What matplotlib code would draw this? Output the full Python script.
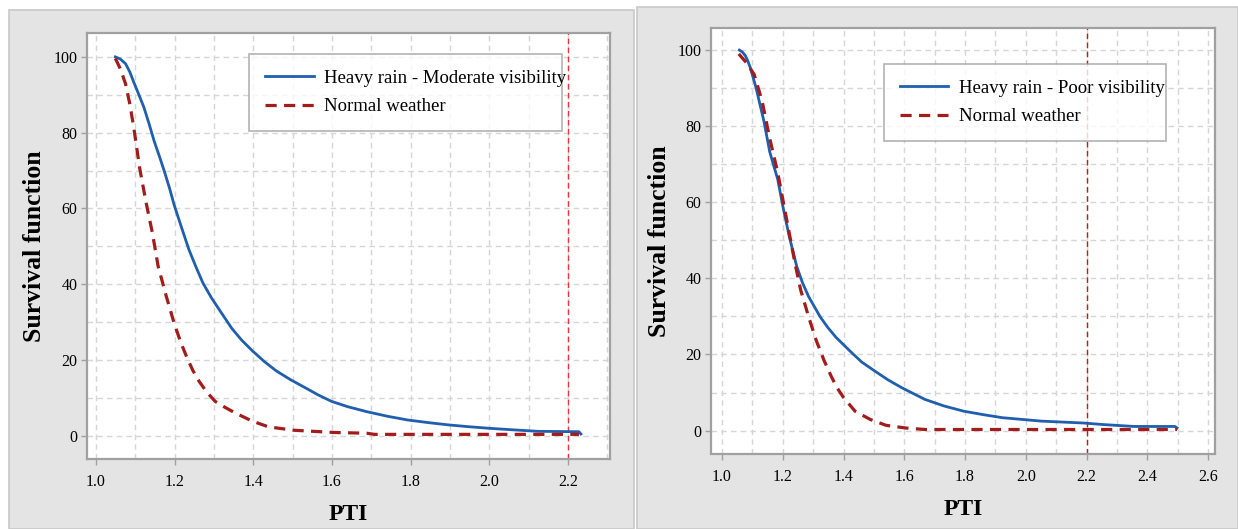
import matplotlib
matplotlib.use("Agg")
import matplotlib.pyplot as plt
from matplotlib.patches import Rectangle
from matplotlib.ticker import MultipleLocator

plt.rcParams['font.family'] = ['Liberation Serif', 'DejaVu Serif']

# ---------------- data ----------------
# Left panel: Heavy rain - Moderate visibility
left_heavy_x = [1.049, 1.062, 1.075, 1.086, 1.096, 1.109, 1.122, 1.135, 1.148, 1.161,
                1.174, 1.187, 1.199, 1.218, 1.236, 1.254, 1.272, 1.293, 1.314, 1.345,
                1.370, 1.397, 1.428, 1.459, 1.495, 1.532, 1.565, 1.599, 1.640, 1.688,
                1.740, 1.792, 1.845, 1.896, 1.950, 2.0, 2.06, 2.124, 2.228, 2.233]
left_heavy_y = [100, 99.4, 98.2, 96.0, 93.3, 90.0, 86.6, 82.3, 77.7, 73.8,
                69.7, 65.3, 60.8, 54.8, 49.2, 44.6, 40.3, 36.5, 33.2, 28.4,
                25.3, 22.5, 19.6, 17.1, 14.8, 12.7, 10.8, 9.1, 7.7, 6.4,
                5.2, 4.2, 3.5, 2.9, 2.4, 2.0, 1.6, 1.2, 1.1, 0.5]
left_normal_x = [1.049, 1.062, 1.075, 1.086, 1.096, 1.111, 1.127, 1.143, 1.158, 1.179,
                 1.199, 1.215, 1.231, 1.246, 1.262, 1.282, 1.303, 1.330, 1.355, 1.397,
                 1.438, 1.501, 1.605, 1.688, 1.708, 2.228]
left_normal_y = [99.6, 96.8, 92.9, 87.5, 81.3, 70.6, 61.7, 53.7, 44.7, 36.7,
                 29.6, 24.8, 20.7, 17.3, 14.4, 11.5, 9.1, 7.4, 6.0, 3.9,
                 2.4, 1.5, 0.9, 0.7, 0.4, 0.4]

# Right panel: Heavy rain - Poor visibility
right_heavy_x = [1.057, 1.067, 1.077, 1.085, 1.093, 1.102, 1.112, 1.125, 1.138, 1.157,
                 1.170, 1.183, 1.202, 1.221, 1.246, 1.265, 1.285, 1.323, 1.348, 1.374,
                 1.425, 1.460, 1.502, 1.545, 1.591, 1.668, 1.730, 1.796, 1.860, 1.923,
                 2.051, 2.191, 2.255, 2.357, 2.491, 2.498]
right_heavy_y = [99.9, 99.4, 98.4, 97.0, 95.3, 92.8, 90.0, 85.6, 81.2, 73.2,
                 69.6, 66.1, 58.2, 51.1, 43.1, 38.8, 35.2, 29.9, 27.1, 24.6,
                 20.6, 18.0, 15.7, 13.4, 11.3, 8.2, 6.5, 5.1, 4.2, 3.4,
                 2.5, 2.0, 1.6, 1.1, 1.1, 0.7]
right_normal_x = [1.055, 1.080, 1.106, 1.132, 1.157, 1.183, 1.202, 1.221, 1.240, 1.259,
                  1.285, 1.310, 1.336, 1.361, 1.380, 1.400, 1.438, 1.489, 1.540, 1.604,
                  1.668, 2.498]
right_normal_y = [98.9, 96.6, 93.5, 86.5, 76.7, 67.9, 59.9, 52.0, 44.0, 36.9,
                  29.9, 23.7, 18.4, 14.0, 11.1, 8.7, 5.1, 2.9, 1.4, 0.7,
                  0.3, 0.3]

left_labels = ["Heavy rain - Moderate visibility", "Normal weather"]
right_labels = ["Heavy rain - Poor visibility", "Normal weather"]
left_xticks = [1.0, 1.2, 1.4, 1.6, 1.8, 2.0, 2.2]
right_xticks = [1.0, 1.2, 1.4, 1.6, 1.8, 2.0, 2.2, 2.4, 2.6]
yticks = [0, 20, 40, 60, 80, 100]
threshold = 2.2

# ---------------- styling ----------------
W, H = 1238, 529
fig = plt.figure(figsize=(W / 100, H / 100), dpi=100)
fig.patch.set_facecolor('white')

BLUE = '#1f5fae'
DARKRED = '#a31c1c'
GRID = '#d6d6d6'
SPINE = '#a0a0a0'
PANEL = '#e4e4e4'

# panel backgrounds (pixel coords -> figure fraction)
for (x0, y0, x1, y1) in [(9, 9.5, 634, 529), (637, 7, 1238, 529)]:
    rect = Rectangle((x0 / W, 1 - y1 / H), (x1 - x0) / W, (y1 - y0) / H,
                     transform=fig.transFigure, facecolor=PANEL, edgecolor='#c8c8c8',
                     linewidth=1.2, zorder=-10)
    fig.add_artist(rect)


def setup(ax, xlim, ylim, xticks, vcolor):
    ax.set_facecolor('white')
    ax.set_xlim(*xlim)
    ax.set_ylim(*ylim)
    ax.set_xticks(xticks)
    ax.set_xticklabels([f"{t:.1f}" for t in xticks])
    ax.set_yticks(yticks)
    ax.set_yticklabels([str(t) for t in yticks])
    ax.xaxis.set_minor_locator(MultipleLocator(0.1))
    ax.yaxis.set_minor_locator(MultipleLocator(10))
    ax.grid(True, which='both', color=GRID, linestyle=(0, (4, 3)), linewidth=1.0)
    ax.set_axisbelow(True)
    ax.tick_params(which='major', direction='out', length=4, width=1, color=SPINE,
                   labelsize=11.5)
    ax.tick_params(axis='x', which='major', pad=7)
    ax.tick_params(axis='y', which='major', pad=3)
    ax.tick_params(which='minor', length=0)
    for s in ax.spines.values():
        s.set_color(SPINE)
        s.set_linewidth(1.6)
    ax.axvline(threshold, color=vcolor, linestyle=(0, (4, 2.5)), linewidth=1.0, zorder=1.5)
    ax.set_xlabel('PTI', fontsize=17, fontweight='bold', labelpad=10)
    ax.set_ylabel('Survival function', fontsize=18.5, fontweight='bold', labelpad=5)


def add_legend(ax, anchor):
    leg = ax.legend(loc='upper left', bbox_to_anchor=anchor, mode='expand',
                    fontsize=13.5, frameon=True, fancybox=False, handlelength=2.6,
                    handletextpad=0.55, borderpad=0.85, labelspacing=0.6, borderaxespad=0)
    leg.get_frame().set_edgecolor('#a0a0a0')
    leg.get_frame().set_linewidth(1.2)
    return leg


# left
axL = fig.add_axes([87 / W, 1 - 459 / H, (610 - 87) / W, (459 - 33) / H])
setup(axL, (0.977, 2.307), (-6.1, 106.3), left_xticks, '#e8353a')
axL.plot(left_heavy_x, left_heavy_y, color=BLUE, linewidth=2.0, label=left_labels[0], zorder=3)
axL.plot(left_normal_x, left_normal_y, color=DARKRED, linewidth=2.3,
         linestyle=(0, (3.5, 2.3)), label=left_labels[1], zorder=3)
add_legend(axL, (0.31, 0.951, 0.598, 0.0))

# right
axR = fig.add_axes([711.4 / W, 1 - 453.5 / H, (1215 - 711.4) / W, (453.5 - 28) / H])
setup(axR, (0.965, 2.623), (-6.0, 105.7), right_xticks, '#b22222')
axR.plot(right_heavy_x, right_heavy_y, color=BLUE, linewidth=2.0, label=right_labels[0], zorder=3)
axR.plot(right_normal_x, right_normal_y, color=DARKRED, linewidth=2.3,
         linestyle=(0, (3.5, 2.3)), label=right_labels[1], zorder=3)
add_legend(axR, (0.342, 0.916, 0.56, 0.0))

fig.savefig('out.png', dpi=100, facecolor='white')
